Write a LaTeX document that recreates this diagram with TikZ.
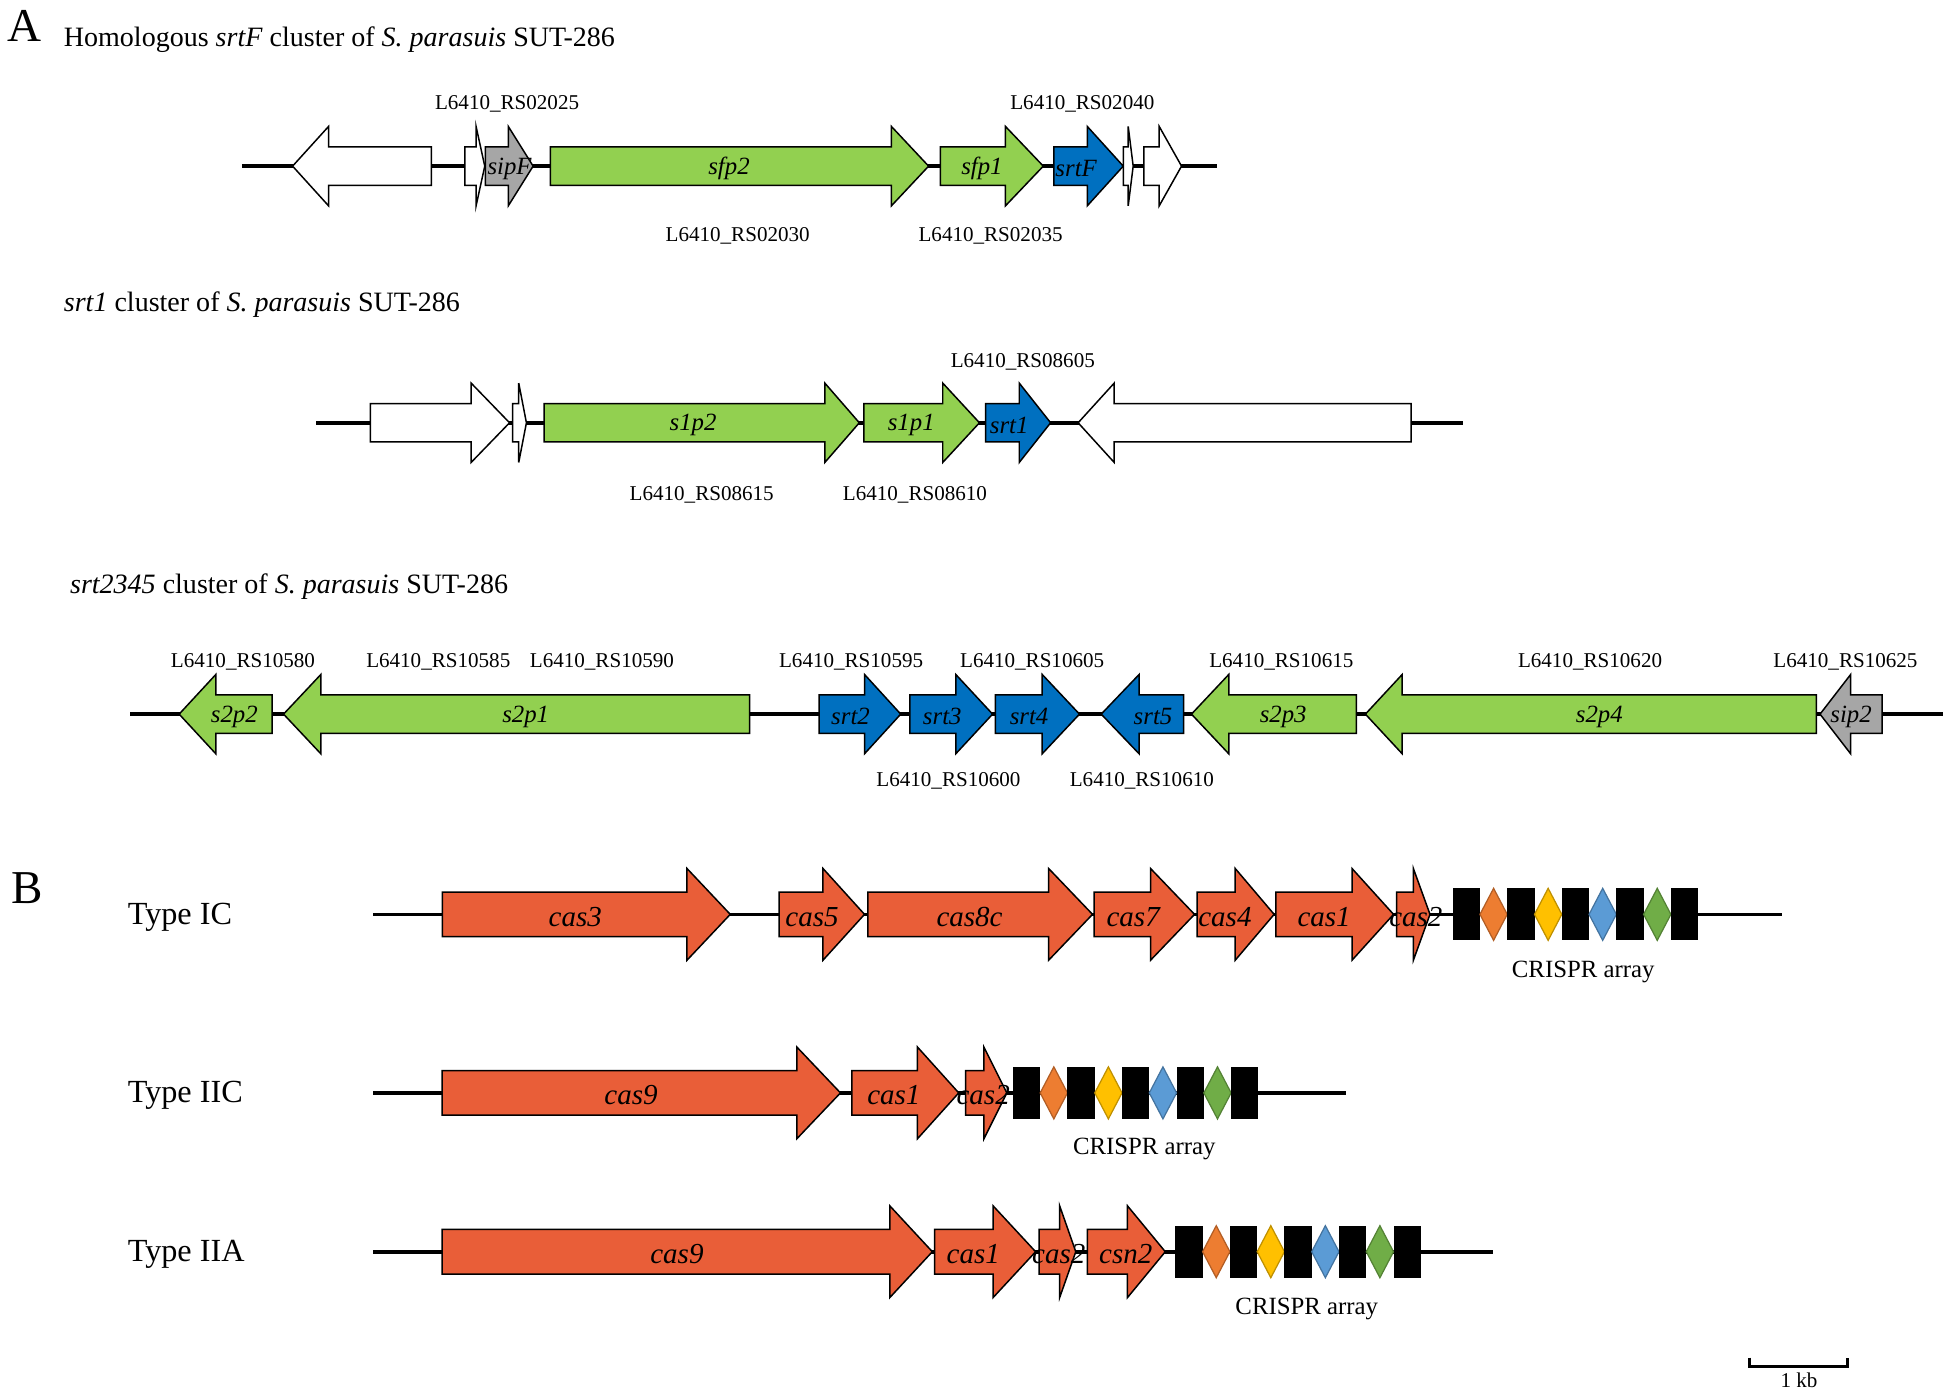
\documentclass[tikz,border=0pt]{standalone}
\usepackage{fontspec}
\setmainfont{Liberation Serif}
\usepackage{tikz}

\definecolor{genegreen}{RGB}{146,208,80}
\definecolor{geneblue}{RGB}{0,112,192}
\definecolor{genegray}{RGB}{166,166,166}
\definecolor{casred}{RGB}{233,94,56}
\definecolor{rorange}{RGB}{237,125,49}
\definecolor{ryellow}{RGB}{255,192,0}
\definecolor{rblue}{RGB}{91,155,213}
\definecolor{rgreen}{RGB}{112,173,71}

% tail x, head base x, tip x, row y
\newcommand{\genearrow}[5][]{%
  \draw[gene,#1] (#2,{#5-\bodyhalf}) -- (#3,{#5-\bodyhalf}) -- (#3,{#5-\headhalf}) -- (#4,#5)
    -- (#3,{#5+\headhalf}) -- (#3,{#5+\bodyhalf}) -- (#2,{#5+\bodyhalf}) -- cycle;}

% first repeat x, row y
\newcommand{\crisprarray}[2]{%
  \foreach \i/\col in {0/rorange,1/ryellow,2/rblue,3/rgreen}{
    \fill[black] ({#1+44*\i},{#2-21}) rectangle ({#1+44*\i+22},{#2+21});
    \draw[spacer,fill=\col,draw=\col!75!black] ({#1+44*\i+22},#2) -- ({#1+44*\i+33},{#2-21})
      -- ({#1+44*\i+44},#2) -- ({#1+44*\i+33},{#2+21}) -- cycle;}
  \fill[black] ({#1+176},{#2-21}) rectangle ({#1+198},{#2+21});}

\begin{document}
\begin{tikzpicture}[x=0.5pt,y=-0.5pt]
			\tikzset{gene/.style={draw=black, line width=0.6pt, line join=miter}}
			\tikzset{backbone/.style={line width=1.5pt}}
			\tikzset{spacer/.style={line width=0.5pt}}
			\tikzset{locus/.style={yshift=-1pt, font=\fontsize{8.5}{10}\selectfont}}
			\tikzset{genename/.style={yshift=-1pt, font=\fontsize{10}{12}\selectfont\itshape}}
			\tikzset{casname/.style={yshift=-1pt, font=\fontsize{11.7}{14}\selectfont\itshape}}
			\tikzset{arrayname/.style={yshift=-1pt, font=\fontsize{10}{12}\selectfont}}
			\tikzset{heading/.style={anchor=west, yshift=-1pt, font=\fontsize{11.3}{13}\selectfont}}
			\tikzset{typename/.style={anchor=west, yshift=-1pt, font=\fontsize{13}{15}\selectfont}}
			\tikzset{panel/.style={font=\fontsize{19}{22}\selectfont}}
			\useasboundingbox (0,0) rectangle (1568,1124);
			%panel A
			\node[panel] (labA) at (20,21) {A};
			\node[heading] (title1) at (44.5,30) {Homologous \textit{srtF} cluster of \textit{S. parasuis} SUT-286};
			\node[heading] (title2) at (44.5,244) {\textit{srt1} cluster of \textit{S. parasuis} SUT-286};
			\node[heading] (title3) at (49.5,471) {\textit{srt2345} cluster of \textit{S. parasuis} SUT-286};
			%backbones
			\coordinate (a1s) at (195,134);
			\coordinate (a1e) at (982,134);
			\coordinate (a2s) at (255,341);
			\coordinate (a2e) at (1180,341);
			\coordinate (a3s) at (105,576);
			\coordinate (a3e) at (1567,576);
			\draw[backbone] (a1s) -- (a1e);
			\draw[backbone] (a2s) -- (a2e);
			\draw[backbone] (a3s) -- (a3e);
			%genes, srtF cluster
			\def\bodyhalf{15.5}\def\headhalf{32}
			\genearrow[fill=white]{348}{265}{236}{134}
			\genearrow[fill=white]{375}{384}{391}{134}
			\genearrow[fill=genegray]{391.5}{410}{430}{134}
			\genearrow[fill=genegreen]{444}{719}{749}{134}
			\genearrow[fill=genegreen]{758.5}{811}{841.5}{134}
			\genearrow[fill=geneblue]{850}{877}{906}{134}
			\genearrow[fill=white]{906}{910}{914}{134}
			\genearrow[fill=white]{922.7}{935}{953}{134}
			\node[genename] (sipF) at (411,134) {sipF};
			\node[genename] (sfp2) at (588,134) {sfp2};
			\node[genename] (sfp1) at (792,134) {sfp1};
			\node[genename] (srtF) at (868,134) {srtF};
			\node[locus] (rs02025) at (409,82) {L6410\_RS02025};
			\node[locus] (rs02040) at (873,82) {L6410\_RS02040};
			\node[locus] (rs02030) at (595,188) {L6410\_RS02030};
			\node[locus] (rs02035) at (799,188) {L6410\_RS02035};
			%genes, srt1 cluster
			\genearrow[fill=white]{298.7}{380}{411}{341}
			\genearrow[fill=white]{413.5}{418.4}{424.6}{341}
			\genearrow[fill=genegreen]{438.8}{665.3}{693.1}{341}
			\genearrow[fill=genegreen]{696.8}{760.4}{790}{341}
			\genearrow[fill=geneblue]{795}{822.1}{847.4}{341}
			\genearrow[fill=white]{1138.2}{898.7}{869.6}{341}
			\node[genename] (s1p2) at (559,341) {s1p2};
			\node[genename] (s1p1) at (735,341) {s1p1};
			\node[genename] (srt1) at (814,341) {srt1};
			\node[locus] (rs08605) at (825,290) {L6410\_RS08605};
			\node[locus] (rs08615) at (566,397) {L6410\_RS08615};
			\node[locus] (rs08610) at (738,397) {L6410\_RS08610};
			%genes, srt2345 cluster
			\genearrow[fill=genegreen]{219.5}{174.1}{144.5}{576}
			\genearrow[fill=genegreen]{604.7}{258.8}{228.7}{576}
			\genearrow[fill=geneblue]{660.7}{697.3}{726.5}{576}
			\genearrow[fill=geneblue]{733.9}{770.9}{800.6}{576}
			\genearrow[fill=geneblue]{802.9}{840.6}{870.7}{576}
			\genearrow[fill=geneblue]{954.7}{918.8}{888.2}{576}
			\genearrow[fill=genegreen]{1094.1}{991.1}{961}{576}
			\genearrow[fill=genegreen]{1465.1}{1131}{1101.3}{576}
			\genearrow[fill=genegray]{1518}{1492.7}{1468}{576}
			\node[genename] (s2p2) at (189,576) {s2p2};
			\node[genename] (s2p1) at (424,576) {s2p1};
			\node[genename] (srt2) at (686,576) {srt2};
			\node[genename] (srt3) at (760,576) {srt3};
			\node[genename] (srt4) at (830,576) {srt4};
			\node[genename] (srt5) at (930,576) {srt5};
			\node[genename] (s2p3) at (1035,576) {s2p3};
			\node[genename] (s2p4) at (1290,576) {s2p4};
			\node[genename] (sip2) at (1493,576) {sip2};
			\node[locus] (rs10580) at (196,532) {L6410\_RS10580};
			\node[locus] (rs10585) at (353.5,532) {L6410\_RS10585};
			\node[locus] (rs10590) at (485.5,532) {L6410\_RS10590};
			\node[locus] (rs10595) at (686.5,532) {L6410\_RS10595};
			\node[locus] (rs10605) at (832.5,532) {L6410\_RS10605};
			\node[locus] (rs10615) at (1033.5,532) {L6410\_RS10615};
			\node[locus] (rs10620) at (1282.5,532) {L6410\_RS10620};
			\node[locus] (rs10625) at (1488.5,532) {L6410\_RS10625};
			\node[locus] (rs10600) at (765,628) {L6410\_RS10600};
			\node[locus] (rs10610) at (921,628) {L6410\_RS10610};
			%panel B
			\node[panel] (labB) at (22,716) {B};
			\node[typename] (typeIC) at (96,737.5) {Type IC};
			\node[typename] (typeIIC) at (96,881.5) {Type IIC};
			\node[typename] (typeIIA) at (96,1009.6) {Type IIA};
			\coordinate (b1s) at (301,737.5);
			\coordinate (b1e) at (1437,737.5);
			\coordinate (b2s) at (301,881.5);
			\coordinate (b2e) at (1086,881.5);
			\coordinate (b3s) at (301,1009.6);
			\coordinate (b3e) at (1204,1009.6);
			\draw[backbone] (b1s) -- (b1e);
			\draw[backbone] (b2s) -- (b2e);
			\draw[backbone] (b3s) -- (b3e);
			\def\bodyhalf{18}\def\headhalf{37}
			%type IC
			\genearrow[fill=casred]{356.8}{554.1}{589}{737.5}
			\genearrow[fill=casred]{628.4}{663.8}{697.3}{737.5}
			\genearrow[fill=casred]{700}{845.8}{881.2}{737.5}
			\genearrow[fill=casred]{882.5}{928}{963.5}{737.5}
			\genearrow[fill=casred]{965.5}{996.3}{1027.7}{737.5}
			\genearrow[fill=casred]{1029}{1090.5}{1124}{737.5}
			\genearrow[fill=casred]{1126.5}{1140}{1153.4}{737.5}
			\crisprarray{1171.7}{737.5}
			\node[casname] (icCas3) at (464,737.5) {cas3};
			\node[casname] (icCas5) at (655,737.5) {cas5};
			\node[casname] (icCas8c) at (782,737.5) {cas8c};
			\node[casname] (icCas7) at (914,737.5) {cas7};
			\node[casname] (icCas4) at (988,737.5) {cas4};
			\node[casname] (icCas1) at (1068,737.5) {cas1};
			\node[casname] (icCas2) at (1142,737.5) {cas2};
			\node[arrayname] (icArray) at (1277,782) {CRISPR array};
			%type IIC
			\genearrow[fill=casred]{356.6}{642.7}{677.9}{881.5}
			\genearrow[fill=casred]{687.1}{740}{773.3}{881.5}
			\genearrow[fill=casred]{778.8}{793.6}{812.1}{881.5}
			\crisprarray{817}{881.5}
			\node[casname] (iicCas9) at (509,881.5) {cas9};
			\node[casname] (iicCas1) at (721,881.5) {cas1};
			\node[casname] (iicCas2) at (793,881.5) {cas2};
			\node[arrayname] (iicArray) at (923,925) {CRISPR array};
			%type IIA
			\genearrow[fill=casred]{356.6}{717.7}{752}{1009.6}
			\genearrow[fill=casred]{753.8}{801}{835.3}{1009.6}
			\genearrow[fill=casred]{838.1}{854.7}{867.7}{1009.6}
			\genearrow[fill=casred]{877}{909.4}{939.9}{1009.6}
			\crisprarray{948}{1009.6}
			\node[casname] (iiaCas9) at (546,1009.6) {cas9};
			\node[casname] (iiaCas1) at (785,1009.6) {cas1};
			\node[casname] (iiaCas2) at (854,1009.6) {cas2};
			\node[casname] (iiaCsn2) at (908,1009.6) {csn2};
			\node[arrayname] (iiaArray) at (1054,1054) {CRISPR array};
			%scale bar
			\coordinate (sbl) at (1411,1095);
			\coordinate (sbr) at (1490,1095);
			\draw[line width=1.2pt] (sbl) -- ++(0,7) -| (sbr);
			\node[locus, yshift=1pt, inner sep=1pt] (kb) at (1451,1113) {1 kb};
\end{tikzpicture}
\end{document}
